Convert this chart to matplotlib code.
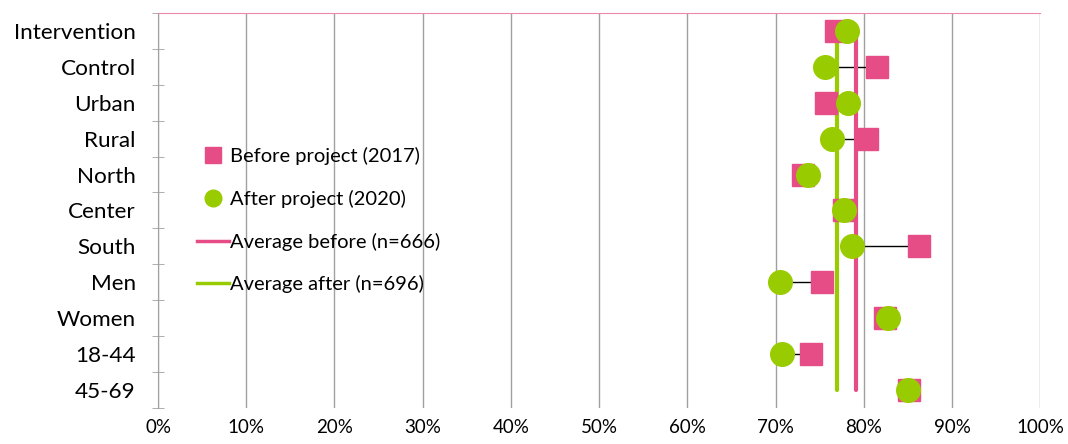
import matplotlib.pyplot as plt
from matplotlib.lines import Line2D
import numpy as np

plt.rcParams['font.family'] = ['Lato', 'DejaVu Sans']

categories = ["Intervention", "Control", "Urban", "Rural", "North", "Center",
              "South", "Men", "Women", "18-44", "45-69"]
before = [76.8, 81.5, 75.7, 80.4, 73.1, 77.8, 86.3, 75.3, 82.4, 74.0, 85.1]
after = [78.1, 75.6, 78.2, 76.4, 73.7, 77.7, 78.7, 70.5, 82.7, 70.7, 85.0]
avg_before = 79.1
avg_after = 77.0

pink = "#e64d87"
green = "#99cc00"

fig = plt.figure(figsize=(10.68, 4.44), dpi=100)
ax = fig.add_axes([0.148, 0.081, 0.826, 0.890])

y = np.arange(len(categories))

# connector lines between before and after
ax.hlines(y, before, after, color="black", linewidth=1, zorder=2)

# average lines
ax.plot([avg_before, avg_before], [y[0], y[-1]], color=pink, linewidth=3,
        solid_capstyle="round", zorder=3)
ax.plot([avg_after, avg_after], [y[0], y[-1]], color=green, linewidth=3,
        solid_capstyle="round", zorder=3)

ax.plot(before, y, linestyle="none", marker="s", markersize=16, color=pink, zorder=4)
ax.plot(after, y, linestyle="none", marker="o", markersize=17, color=green, zorder=5)

ax.set_xlim(0, 100)
ax.set_ylim(len(categories) - 0.5, -0.5)
ax.set_xticks(np.arange(0, 101, 10))
ax.set_xticklabels([f"{v}%" for v in range(0, 101, 10)], fontsize=13.5)
ax.set_yticks(y)
ax.set_yticklabels(categories, fontsize=16.2)
ax.set_yticks(np.arange(-0.5, len(categories), 1), minor=True)
ax.tick_params(axis="y", which="major", length=0, pad=16)
ax.tick_params(axis="y", which="minor", length=8, direction="inout", color="#a0a0a0")
ax.tick_params(axis="x", length=0, pad=8)

ax.grid(axis="x", color="#a0a0a0", linewidth=1)
ax.set_axisbelow(True)
for side in ["right", "bottom"]:
    ax.spines[side].set_visible(False)
ax.spines["left"].set_color("#a0a0a0")
ax.spines["top"].set_color("#e88aac")

handles = [
    Line2D([], [], linestyle="none", marker="s", markersize=11, color=pink),
    Line2D([], [], linestyle="none", marker="o", markersize=12, color=green),
    Line2D([], [], color=pink, linewidth=2.5),
    Line2D([], [], color=green, linewidth=2.5),
]
labels = ["Before project (2017)", "After project (2020)",
          "Average before (n=666)", "Average after (n=696)"]
ax.legend(handles, labels, loc="upper left", bbox_to_anchor=(0.035, 0.68),
          frameon=False, fontsize=14.5, handlelength=1.6, handletextpad=0.05,
          labelspacing=1.22, borderaxespad=0)

fig.savefig("out.png", dpi=100)
